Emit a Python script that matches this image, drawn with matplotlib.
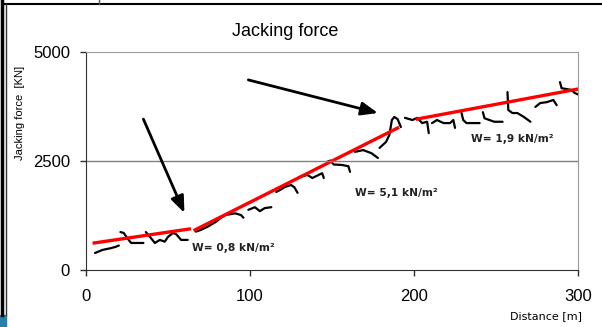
import numpy as np
import matplotlib.pyplot as plt
from matplotlib.lines import Line2D
from matplotlib.patches import Rectangle

# measured jacking force, pieces separated by nan
dist = [5.5, 10, 15, 18, 20, np.nan,
        21, 23, 25, 27.5, 31, 35, np.nan,
        36.5, 39, 42, 45, 48, 50, 53, 55, 58, 62, np.nan,
        67, 70, 74, 79, 82, 85, 91, 94.5, 96, np.nan,
        99, 103, 106, 109, 113, np.nan,
        116, 119, 121, 125, 127, 129, np.nan,
        130, 135, 138, 144, 145, np.nan,
        147, 149, 151, 156, 160, 161, np.nan,
        164, 169, 174, 178, np.nan,
        179, 183, 185, 186.5, 188, 190, 192, np.nan,
        194.5, 199, 202, 205, 208, 209, np.nan,
        211, 214, 218, 222, 224, 225, np.nan,
        229, 230, 232, 236, 240, np.nan,
        242, 243, 246, 249, 254, np.nan,
        257, 257.5, 260, 263, 267, 271, np.nan,
        274, 277, 281, 285, 287, np.nan,
        289, 290, 293, 296, 298, 301]
force = [390, 460, 500, 530, 560, np.nan,
         870, 850, 740, 620, 620, 620, np.nan,
         870, 760, 620, 690, 650, 760, 850, 820, 690, 690, np.nan,
         880, 920, 990, 1100, 1190, 1260, 1300, 1260, 1200, np.nan,
         1380, 1440, 1350, 1420, 1440, np.nan,
         1790, 1850, 1900, 1950, 1900, 1770, np.nan,
         2130, 2180, 2110, 2220, 2110, np.nan,
         2480, 2510, 2420, 2410, 2380, 2250, np.nan,
         2710, 2750, 2680, 2570, np.nan,
         2800, 2940, 3100, 3440, 3510, 3460, 3280, np.nan,
         3490, 3440, 3490, 3370, 3400, 3140, np.nan,
         3370, 3440, 3370, 3370, 3440, 3260, np.nan,
         3600, 3440, 3370, 3370, 3370, np.nan,
         3620, 3480, 3440, 3400, 3400, np.nan,
         4080, 3670, 3600, 3600, 3510, 3400, np.nan,
         3740, 3830, 3850, 3900, 3780, np.nan,
         4310, 4170, 4150, 4130, 4060, 4010]

# fitted trend lines (start, end)
fit_dist = [(5, 63), (66.5, 190), (202, 300)]
fit_force = [(620, 940), (920, 3257), (3463, 4151)]
fit_labels = ["W= 0,8 kN/m²", "W= 5,1 kN/m²", "W= 1,9 kN/m²"]
label_pos = [(64.5, 505), (164, 1766), (235, 3005)]

# arrows (tail -> head)
arrows = [((35, 3460), (60, 1310)), ((99, 4360), (178, 3600))]

fig = plt.figure(figsize=(6.02, 3.27), dpi=100, facecolor='w')
ax = fig.add_axes([86 / 602, 1 - 270 / 327, 492 / 602, 218 / 327])

ax.plot(dist, force, color='black', lw=1.6, solid_capstyle='round')
for xs, ys in zip(fit_dist, fit_force):
    ax.plot(xs, ys, color='red', lw=2.4)

for txt, (x, y) in zip(fit_labels, label_pos):
    ax.text(x, y, txt, fontsize=7.7, fontweight='bold', family='DejaVu Sans',
            ha='left', va='center', color='#222222')

for (x0, y0), (x1, y1) in arrows:
    ax.annotate("", xy=(x1, y1), xytext=(x0, y0),
                arrowprops=dict(arrowstyle='-|>,head_length=1.0,head_width=0.4',
                                color='black', lw=2, shrinkA=0, shrinkB=0))

ax.set_xlim(0, 300)
ax.set_ylim(0, 5000)
ax.set_xticks([0, 100, 200, 300])
ax.set_yticks([0, 2500, 5000])
ax.axhline(2500, color='#808080', lw=1)

for s in ['top', 'right']:
    ax.spines[s].set_color('#9a9a9a')
for s in ['left', 'bottom']:
    ax.spines[s].set_color('#303030')
ax.tick_params(direction='out', length=4.5, width=1, color='#303030',
               labelsize=12, labelfontfamily='Liberation Sans')
ax.tick_params(axis='y', pad=7)
ax.tick_params(axis='x', pad=9)

fig.text(285 / 602, 1 - 32 / 327, "Jacking force", fontsize=13,
         family='Liberation Sans', ha='center', va='center')
fig.text(20 / 602, 1 - 113 / 327, "Jacking force  [KN]", fontsize=8,
         family='Liberation Sans', rotation=90, ha='center', va='center')
fig.text(582 / 602, 1 - 316 / 327, "Distance [m]", fontsize=8,
         family='DejaVu Sans', ha='right', va='center')

# frame of the surrounding sheet
fig.add_artist(Line2D([5 / 602, 1], [1 - 4 / 327, 1 - 4 / 327], color='black', lw=1.5))
fig.add_artist(Line2D([5.5 / 602, 5.5 / 602], [1 - 4 / 327, 12 / 327], color='#333333', lw=1))
fig.add_artist(Line2D([1.5 / 602, 1.5 / 602], [1, 12 / 327], color='black', lw=2.5))
fig.add_artist(Line2D([99 / 602, 99 / 602], [1, 1 - 4 / 327], color='#555555', lw=1))
fig.add_artist(Rectangle((0, 0), 6 / 602, 12 / 327, transform=fig.transFigure,
                         color='#2a7fa8'))

plt.savefig('out.png', dpi=100)
